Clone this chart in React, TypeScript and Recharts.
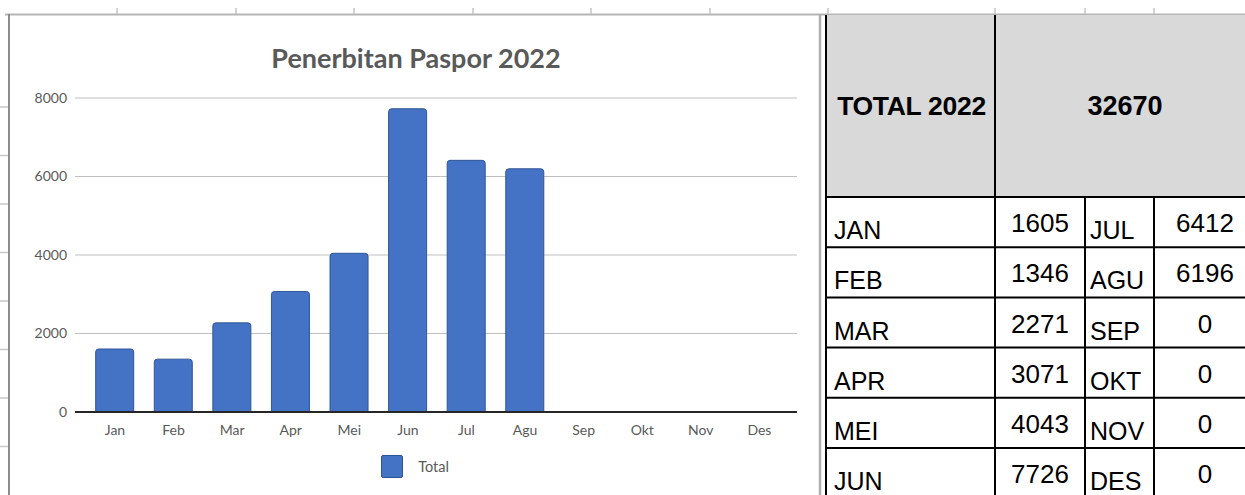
import React from 'react';
import { BarChart, Bar, XAxis, YAxis, CartesianGrid, Legend } from 'recharts';

const months = ['Jan', 'Feb', 'Mar', 'Apr', 'Mei', 'Jun', 'Jul', 'Agu', 'Sep', 'Okt', 'Nov', 'Des'];
const tableMonths = ['JAN', 'FEB', 'MAR', 'APR', 'MEI', 'JUN', 'JUL', 'AGU', 'SEP', 'OKT', 'NOV', 'DES'];
const totals = [1605, 1346, 2271, 3071, 4043, 7726, 6412, 6196, 0, 0, 0, 0];
const yTicks = [0, 2000, 4000, 6000, 8000];
const seriesName = 'Total';
const chartTitle = 'Penerbitan Paspor 2022';
const tableTitle = 'TOTAL 2022';

const data = months.map((m, i) => ({ month: m, total: totals[i] }));
const grandTotal = totals.reduce((a, b) => a + b, 0);

const BAR_FILL = '#4472C4';
const BAR_STROKE = '#2F5597';
const TEXT_GRAY = '#595959';

// table geometry (styling constants)
const COL_X = [826, 995, 1085, 1154, 1260];
const HEADER_TOP = 15;
const HEADER_BOTTOM = 197;
const ROW_H = 50.2;
const ROWS = 6;

const topTickXs = [117, 236, 354, 473, 591, 710, 828, 995, 1085, 1154];

function LegendContent(props: any) {
  const payload = props.payload || [];
  return (
    <div style={{ display: 'flex', justifyContent: 'center', alignItems: 'center', fontFamily: 'Lato', fontSize: 14.5, color: TEXT_GRAY }}>
      {payload.map((p: any) => (
        <div key={String(p.value)} style={{ display: 'flex', alignItems: 'center' }}>
          <span style={{ display: 'inline-block', width: 22, height: 23, background: BAR_FILL, border: `1px solid ${BAR_STROKE}`, borderRadius: 2, boxSizing: 'border-box', marginRight: 15 }} />
          <span>{p.value}</span>
        </div>
      ))}
    </div>
  );
}

export default function App() {
  const rowTop = (i: number) => HEADER_BOTTOM + i * ROW_H;
  return (
    <div style={{ position: 'fixed', left: 0, top: 0, width: 1245, height: 495, overflow: 'hidden', background: '#ffffff' }}>
      {/* spreadsheet decorations */}
      <svg width={1245} height={495} style={{ position: 'absolute', left: 0, top: 0 }}>
        <line x1={5} y1={14.5} x2={1245} y2={14.5} stroke="#b5b5b5" strokeWidth={2} />
        {topTickXs.map((x) => (
          <line key={x} x1={x} y1={8} x2={x} y2={14} stroke="#c4c4c4" strokeWidth={1.5} />
        ))}
        {Array.from({ length: 8 }).map((_, k) => (
          <line key={k} x1={0} y1={107 + k * 48.5} x2={8} y2={107 + k * 48.5} stroke="#c8c8c8" strokeWidth={1.5} />
        ))}
        <line x1={9} y1={14} x2={9} y2={495} stroke="#8c8c8c" strokeWidth={2} />
        <line x1={820} y1={14} x2={820} y2={495} stroke="#b0b0b0" strokeWidth={2.5} />
      </svg>

      <div style={{ position: 'absolute', left: 0, top: 0 }}>
        <BarChart width={830} height={495} data={data} margin={{ top: 98, right: 33, bottom: 53, left: 0 }}>
          <CartesianGrid vertical={false} stroke="#bfbfbf" strokeWidth={1} />
          <XAxis
            dataKey="month"
            height={30}
            tickLine={false}
            axisLine={{ stroke: '#262626', strokeWidth: 2 }}
            tickMargin={7}
            padding={{ left: 10.7, right: 8.3 }}
            tick={{ fill: TEXT_GRAY, fontSize: 14, fontFamily: 'Lato' }}
            interval={0}
          />
          <YAxis
            width={75}
            domain={[0, 8000]}
            ticks={yTicks}
            tickLine={false}
            axisLine={false}
            tick={{ fill: TEXT_GRAY, fontSize: 14, fontFamily: 'Lato' }}
          />
          <Legend
            layout="horizontal"
            verticalAlign="middle"
            align="center"
            wrapperStyle={{ top: 455, left: 0, width: 830 }}
            content={LegendContent}
          />
          <Bar
            dataKey="total"
            name={seriesName}
            fill={BAR_FILL}
            stroke={BAR_STROKE}
            strokeWidth={1}
            barSize={38}
            radius={[3, 3, 0, 0]}
            isAnimationActive={false}
          />
        </BarChart>
      </div>

      {/* title and table */}
      <svg width={1245} height={495} style={{ position: 'absolute', left: 0, top: 0, pointerEvents: 'none' }}>
        <text x={416} y={68} textAnchor="middle" fontFamily="Lato" fontWeight="bold" fontSize={27} fill={TEXT_GRAY}>
          {chartTitle}
        </text>

        <rect x={COL_X[0]} y={HEADER_TOP} width={1245 - COL_X[0]} height={HEADER_BOTTOM - HEADER_TOP} fill="#d9d9d9" />
        <text x={(COL_X[0] + COL_X[1]) / 2 + 1} y={115} textAnchor="middle" fontFamily="Liberation Sans" fontWeight="bold" fontSize={26.5} fill="#000" letterSpacing={-0.3}>
          {tableTitle}
        </text>
        <text x={1125} y={115} textAnchor="middle" fontFamily="Liberation Sans" fontWeight="bold" fontSize={27} fill="#000">
          {grandTotal}
        </text>

        {/* vertical lines */}
        <line x1={COL_X[0]} y1={HEADER_TOP} x2={COL_X[0]} y2={495} stroke="#000" strokeWidth={2} />
        <line x1={COL_X[1]} y1={HEADER_TOP} x2={COL_X[1]} y2={495} stroke="#000" strokeWidth={2} />
        <line x1={COL_X[2]} y1={HEADER_BOTTOM} x2={COL_X[2]} y2={495} stroke="#000" strokeWidth={2} />
        <line x1={COL_X[3]} y1={HEADER_BOTTOM} x2={COL_X[3]} y2={495} stroke="#000" strokeWidth={2} />
        {/* horizontal lines */}
        {Array.from({ length: ROWS + 1 }).map((_, i) => (
          <line key={i} x1={COL_X[0]} y1={rowTop(i)} x2={1245} y2={rowTop(i)} stroke="#000" strokeWidth={2} />
        ))}

        {Array.from({ length: ROWS }).map((_, i) => {
          const top = rowTop(i);
          const bottom = top + ROW_H;
          const mid = top + ROW_H / 2;
          const left = i;
          const right = i + ROWS;
          return (
            <g key={i} fontFamily="Liberation Sans" fill="#000">
              <text x={834} y={bottom - 8} fontSize={25}>{tableMonths[left]}</text>
              <text x={(COL_X[1] + COL_X[2]) / 2} y={mid + 10} fontSize={26} textAnchor="middle">{totals[left]}</text>
              <text x={1090} y={bottom - 8} fontSize={25}>{tableMonths[right]}</text>
              <text x={1205} y={mid + 10} fontSize={26} textAnchor="middle">{totals[right]}</text>
            </g>
          );
        })}
      </svg>
    </div>
  );
}
